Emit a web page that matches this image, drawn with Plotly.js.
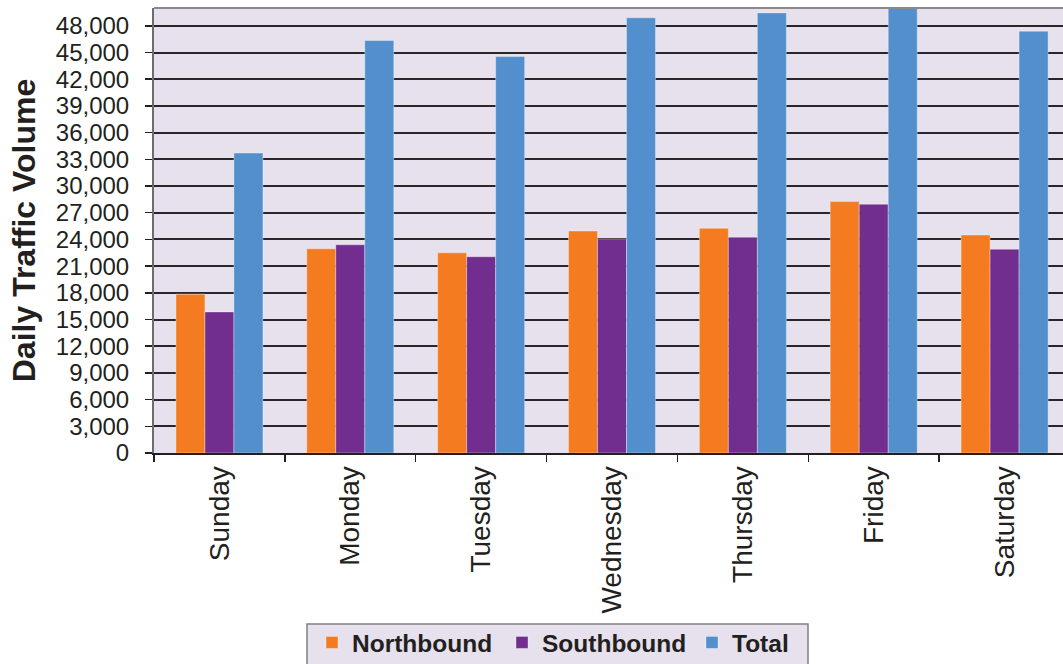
<!DOCTYPE html>
<html>
<head>
<meta charset="utf-8">
<script src="https://cdn.plot.ly/plotly-3.0.1.min.js"></script>
<style>
html,body{margin:0;padding:0;overflow:hidden;background:#fff;}
#chart{width:1075px;height:664px;}
</style>
</head>
<body>
<div id="chart"></div>
<script>
const days = ["Sunday","Monday","Tuesday","Wednesday","Thursday","Friday","Saturday"];
const northbound = [17850, 22950, 22500, 24950, 25250, 28250, 24500];
const southbound = [15850, 23400, 22050, 24050, 24250, 27950, 22900];
const total = [33700, 46350, 44550, 48900, 49450, 56200, 47400];
const yTicks = [0,3000,6000,9000,12000,15000,18000,21000,24000,27000,30000,33000,36000,39000,42000,45000,48000];

const edge = 'rgba(255,255,255,0.35)';
const traces = [
  {type:'bar', name:'Northbound', x:days, y:northbound, marker:{color:'#F47B20', line:{color:edge,width:1}}},
  {type:'bar', name:'Southbound', x:days, y:southbound, marker:{color:'#722E8E', line:{color:edge,width:1}}},
  {type:'bar', name:'Total', x:days, y:total, marker:{color:'#528FCC', line:{color:edge,width:1}}}
];

const layout = {
  width:1075, height:664,
  margin:{l:154, r:5, t:8, b:211, autoexpand:false},
  paper_bgcolor:'#ffffff',
  plot_bgcolor:'#E6E1ED',
  font:{family:'"Liberation Sans", Arial, sans-serif', color:'#231F20', size:24},
  barmode:'group',
  bargap:0.335,
  bargroupgap:0,
  showlegend:true,
  legend:{
    orientation:'h', xref:'paper', yref:'paper', x:0.1725, y:-0.3753, xanchor:'left', yanchor:'top',
    bgcolor:'rgba(0,0,0,0)', borderwidth:0,
    entrywidth:145, entrywidthmode:'pixels',
    font:{size:24.5, weight:'bold', color:'#231F20'},
    traceorder:'normal'
  },
  xaxis:{
    type:'category',
    tickangle:-90,
    ticks:'outside', tickson:'boundaries', ticklen:7, tickwidth:1.5, tickcolor:'#231F20',
    showline:true, linecolor:'#231F20', linewidth:2,
    showgrid:false,
    tickfont:{size:28},
    automargin:false
  },
  yaxis:{
    range:[0,50000],
    tickvals:yTicks,
    tickformat:',d',
    ticks:'outside', ticklen:7, tickwidth:1.5, tickcolor:'#231F20',
    ticklabelstandoff:11,
    showline:true, linecolor:'#6d6d6d', linewidth:2,
    showgrid:true, gridcolor:'#2a2628', gridwidth:2,
    zeroline:false,
    tickfont:{size:24},
    title:{text:'Daily Traffic Volume', font:{size:32, weight:'bold'}, standoff:11},
    automargin:false
  },
  shapes:[
    {type:'line', xref:'paper', yref:'paper', x0:0, x1:1, y0:1, y1:1, line:{color:'#8a8a8a', width:2}},
    {type:'rect', xref:'paper', yref:'paper', x0:0.16703, x1:0.71397, y0:-0.38427, y1:-0.5,
     fillcolor:'#E6E1ED', line:{color:'#808080', width:1.5}, layer:'above'}
  ]
};

Plotly.newPlot('chart', traces, layout, {displayModeBar:false, staticPlot:true});
</script>
</body>
</html>
